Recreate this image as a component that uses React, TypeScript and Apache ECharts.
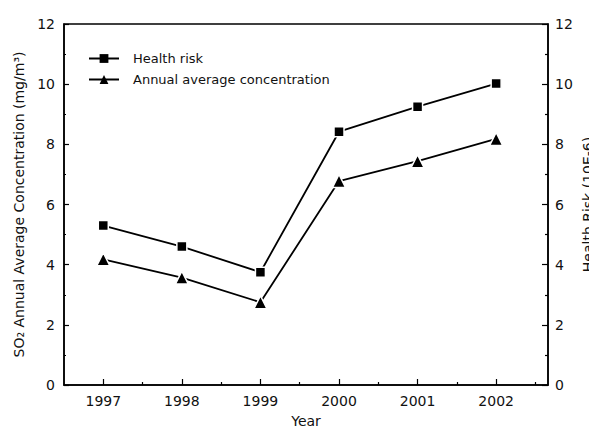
import React, { useEffect, useRef } from "react";
import * as echarts from "echarts";

const years = [1997, 1998, 1999, 2000, 2001, 2002];
const halfYears = [1997.5, 1998.5, 1999.5, 2000.5, 2001.5, 2002.5];
const healthRisk = [5.3, 4.6, 3.75, 8.42, 9.25, 10.02];
const concentration = [4.18, 3.57, 2.75, 6.78, 7.44, 8.18];
const yMin = 0;
const yMax = 12;
const yInterval = 2;
const xMin = 1996.5;
const xMax = 2002.66;

const FONT = "DejaVu Sans";
const TXT = "#111";

export default function App() {
  const ref = useRef<HTMLDivElement>(null);
  useEffect(() => {
    if (!ref.current) return;
    const chart = echarts.init(ref.current, null, { renderer: "svg" });
    const axisLine = { lineStyle: { color: "#000", width: 1.5 } };
    const tickStyle = { color: "#000", width: 1.2 };
    const yAxisBase = (pos: "left" | "right", name: string, gap: number) => ({
      type: "value",
      position: pos,
      min: yMin,
      max: yMax,
      interval: yInterval,
      name,
      nameLocation: "middle",
      nameGap: gap,
      nameRotate: 90,
      nameMoveOverlap: false,
      nameTextStyle: { fontFamily: FONT, fontSize: 14, color: TXT },
      axisLine: { show: true, ...axisLine },
      axisTick: { show: true, inside: true, length: pos === "left" ? 5 : 6, lineStyle: tickStyle },
      minorTick: { show: true, splitNumber: 2, length: pos === "left" ? 2 : 3, lineStyle: tickStyle },
      axisLabel: { fontFamily: FONT, fontSize: 14, color: TXT, margin: pos === "left" ? 9 : 7 },
      splitLine: { show: false },
    });
    chart.setOption({
      animation: false,
      backgroundColor: "#fff",
      grid: {
        left: 64,
        right: 49,
        top: 24,
        bottom: 50,
        show: true,
        borderColor: "#000",
        borderWidth: 1.5,
        outerBoundsMode: "none",
        containLabel: false,
      },
      legend: {
        orient: "vertical",
        left: 83,
        top: 47,
        itemWidth: 30,
        itemHeight: 11,
        itemGap: 8,
        itemStyle: { borderWidth: 0 },
        textStyle: { fontFamily: FONT, fontSize: 13, color: TXT, padding: [0, 0, 0, 9] },
        data: ["Health risk", "Annual average concentration"],
      },
      xAxis: [
        {
          type: "value",
          position: "bottom",
          min: xMin,
          max: xMax,
          name: "Year",
          nameLocation: "middle",
          nameGap: 29,
          nameMoveOverlap: false,
          nameTextStyle: { fontFamily: FONT, fontSize: 14, color: TXT },
          axisLine: { show: true, ...axisLine },
          axisTick: { show: true, inside: true, length: 6, customValues: years, lineStyle: tickStyle },
          axisLabel: {
            customValues: years,
            formatter: (v: number) => String(v),
            fontFamily: FONT,
            fontSize: 14,
            color: TXT,
            margin: 9,
          },
          splitLine: { show: false },
        },
        {
          type: "value",
          position: "bottom",
          min: xMin,
          max: xMax,
          axisLine: { show: false },
          axisTick: { show: true, inside: true, length: 3, customValues: halfYears, lineStyle: tickStyle },
          axisLabel: { show: false },
          splitLine: { show: false },
        },
      ],
      yAxis: [
        yAxisBase("left", "SO\u2082 Annual Average Concentration (mg/m\u00B3)", 38),
        yAxisBase("right", "Health Risk (10E-6)", 33),
      ],
      series: [
        {
          name: "Health risk",
          type: "line",
          xAxisIndex: 0,
          yAxisIndex: 1,
          data: years.map((y, i) => [y, healthRisk[i]]),
          symbol: "rect",
          symbolSize: 10,
          lineStyle: { color: "#000", width: 1.8 },
          itemStyle: { color: "#000", borderColor: "#fff", borderWidth: 1.5 },
        },
        {
          name: "Annual average concentration",
          type: "line",
          xAxisIndex: 0,
          yAxisIndex: 0,
          data: years.map((y, i) => [y, concentration[i]]),
          symbol: "triangle",
          symbolSize: 13,
          lineStyle: { color: "#000", width: 1.8 },
          itemStyle: { color: "#000", borderColor: "#fff", borderWidth: 1.5 },
        },
      ],
    });
    return () => chart.dispose();
  }, []);
  return <div ref={ref} style={{ width: 597, height: 435, margin: -8 }} />;
}
